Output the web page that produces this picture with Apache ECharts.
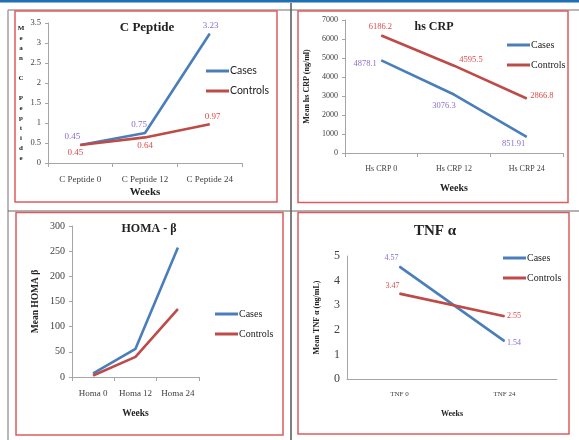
<!DOCTYPE html>
<html>
<head>
<meta charset="utf-8">
<script src="https://cdn.jsdelivr.net/npm/echarts@6/dist/echarts.min.js"></script>
<style>html,body{margin:0;padding:0;background:#fff;}#c{width:579px;height:440px;}</style>
</head>
<body>
<div id="c"></div>
<script>
// ---- data ----
var cpepCats = ['C Peptide 0', 'C Peptide 12', 'C Peptide 24'];
var cpepCases = [0.45, 0.75, 3.23];
var cpepControls = [0.45, 0.64, 0.97];

var crpCats = ['Hs CRP 0', 'Hs CRP 12', 'Hs CRP 24'];
var crpCases = [4878.1, 3076.3, 851.91];
var crpControls = [6186.2, 4595.5, 2866.8];

var homaCats = ['Homa 0', 'Homa 12', 'Homa 24'];
var homaCases = [7, 56, 257];
var homaControls = [3, 40, 135];

var tnfCats = ['TNF 0', 'TNF 24'];
var tnfCases = [4.57, 1.54];
var tnfControls = [3.47, 2.55];

// ---- styles ----
var SERIF = '"Liberation Serif", "DejaVu Serif", serif';
var BLUE = '#4a7ebb', RED = '#be4b48';
var PURPLE_LBL = '#8a6cd0', RED_LBL = '#e04a4a';
var AXIS_GRAY = '#a6a6a6', TICK_TXT = '#404040';

function withLabels(values, specs, color, size) {
  return values.map(function (v, i) {
    var s = specs[i];
    return {
      value: v,
      label: { show: true, position: s[0], distance: 3, offset: [s[1], s[2]], color: color, fontFamily: SERIF, fontSize: size }
    };
  });
}

function xAx(idx, cats, fs, nameSize, gap, ticks) {
  return {
    type: 'category', gridIndex: idx, data: cats, boundaryGap: true,
    axisLine: { lineStyle: { color: AXIS_GRAY, width: 1 } },
    axisTick: { show: ticks, length: 4, lineStyle: { color: AXIS_GRAY } },
    axisLabel: { color: TICK_TXT, fontFamily: SERIF, fontSize: fs, margin: 12, interval: 0 },
    name: 'Weeks', nameLocation: 'middle', nameGap: gap,
    nameTextStyle: { fontFamily: SERIF, fontWeight: 'bold', fontSize: nameSize, color: '#222' }
  };
}
function yAx(idx, max, interval, fs, name, nameSize, gap, rotate, ticks) {
  return {
    type: 'value', gridIndex: idx, min: 0, max: max, interval: interval,
    splitLine: { show: false },
    axisLine: { show: true, lineStyle: { color: AXIS_GRAY, width: 1 } },
    axisTick: { show: ticks, length: 3, lineStyle: { color: AXIS_GRAY } },
    axisLabel: { color: TICK_TXT, fontFamily: SERIF, fontSize: fs, margin: 7, formatter: function (v) { return String(v); } },
    name: name, nameLocation: 'middle', nameGap: gap, nameRotate: rotate,
    nameTextStyle: { fontFamily: SERIF, fontWeight: 'bold', fontSize: nameSize, color: '#222', align: 'center', lineHeight: 10 }
  };
}
function line(name, idx, data, color) {
  return {
    name: name, type: 'line', xAxisIndex: idx, yAxisIndex: idx, data: data,
    symbol: 'circle', symbolSize: 1, showSymbol: true,
    lineStyle: { color: color, width: 2.6 }, itemStyle: { color: color }, z: 3
  };
}
function legend(left, top, fam, fs) {
  return {
    data: ['Cases', 'Controls'], orient: 'vertical', left: left, top: top, padding: 0,
    itemWidth: 23, itemHeight: 3, itemGap: 8, icon: 'rect',
    textStyle: { fontFamily: fam, fontSize: fs, color: '#222', lineHeight: 12, padding: [0, 0, 0, -4] }
  };
}
function rect(x1, y1, x2, y2) {
  return { type: 'rect', shape: { x: x1, y: y1, width: x2 - x1, height: y2 - y1 }, style: { fill: 'none', stroke: '#dc5c5c', lineWidth: 1.5 }, silent: true };
}
function seg(x1, y1, x2, y2, color, w) {
  return { type: 'line', shape: { x1: x1, y1: y1, x2: x2, y2: y2 }, style: { stroke: color, lineWidth: w }, silent: true };
}

var option = {
  animation: false,
  backgroundColor: '#fff',
  title: [
    { text: 'C Peptide', left: 147, top: 21, textAlign: 'center', padding: 0, textStyle: { fontFamily: SERIF, fontWeight: 'bold', fontSize: 13, color: '#222' } },
    { text: 'hs CRP', left: 434, top: 21, textAlign: 'center', padding: 0, textStyle: { fontFamily: SERIF, fontWeight: 'bold', fontSize: 12, color: '#222' } },
    { text: 'HOMA - β', left: 149, top: 223, textAlign: 'center', padding: 0, textStyle: { fontFamily: SERIF, fontWeight: 'bold', fontSize: 12, color: '#222' } },
    { text: 'TNF α', left: 435, top: 224, textAlign: 'center', padding: 0, textStyle: { fontFamily: SERIF, fontWeight: 'bold', fontSize: 15, color: '#222' } }
  ],
  legend: [
    legend(206, 65, '"Lato", "Liberation Sans", sans-serif', 10.5),
    legend(507, 39, SERIF, 10),
    legend(215, 308, SERIF, 10),
    legend(503, 252, SERIF, 10)
  ],
  grid: [
    { left: 48, top: 23, width: 194, height: 140 },
    { left: 345, top: 20, width: 218, height: 133 },
    { left: 72, top: 226, width: 127, height: 151 },
    { left: 347, top: 256, width: 210, height: 123 }
  ],
  xAxis: [
    xAx(0, cpepCats, 9, 11, 24, true),
    xAx(1, crpCats, 8, 10, 30, true),
    xAx(2, homaCats, 9, 9.5, 32, true),
    xAx(3, tnfCats, 7, 8, 31, false)
  ],
  yAxis: [
    yAx(0, 3.5, 0.5, 8.5, 'M\ne\na\nn\n\nC\n\nP\ne\np\nt\ni\nd\ne', 7, 27, 0, true),
    yAx(1, 7000, 1000, 8, 'Mean hs CRP (ng/ml)', 8, 33, 90, true),
    yAx(2, 300, 50, 10, 'Mean HOMA β', 9.5, 31, 90, true),
    yAx(3, 5, 1, 12, 'Mean TNF α (ng/mL)', 8, 25, 90, false)
  ],
  series: [
    line('Cases', 0, withLabels(cpepCases, [['top', -8, 0], ['top', -6, 0], ['top', 1, 0]], PURPLE_LBL, 9), BLUE),
    line('Controls', 0, withLabels(cpepControls, [['bottom', -5, 0], ['bottom', 0, 0], ['top', 3, 0]], RED_LBL, 9), RED),
    line('Cases', 1, withLabels(crpCases, [['left', -1, 3], ['bottom', -10, 3], ['bottom', -13, -1]], PURPLE_LBL, 8.5), BLUE),
    line('Controls', 1, withLabels(crpControls, [['top', -1, -1], ['top', 17, 2], ['right', 0, -3]], RED_LBL, 8.5), RED),
    line('Cases', 2, homaCases, BLUE),
    line('Controls', 2, homaControls, RED),
    line('Cases', 3, withLabels(tnfCases, [['top', -8, -1], ['right', -1, 2]], PURPLE_LBL, 8), BLUE),
    line('Controls', 3, withLabels(tnfControls, [['top', -7, 0], ['right', -1, 0]], RED_LBL, 8), RED)
  ],
  graphic: [
    { type: 'rect', shape: { x: 0, y: 0, width: 579, height: 2.5 }, style: { fill: '#1f6fb5' }, silent: true },
    seg(8, 10, 579, 10, '#a0a0a0', 1.5),
    seg(8, 10, 8, 440, '#a0a0a0', 1.5),
    seg(291, 3, 291, 440, '#555', 1.5),
    seg(8, 211, 579, 211, '#666', 1.2),
    rect(15, 11, 277, 202),
    rect(298, 11, 568, 202.5),
    rect(16, 212.5, 283, 435),
    rect(298, 212.5, 569, 434)
  ]
};
var chart = echarts.init(document.getElementById('c'), null, { renderer: 'canvas' });
chart.setOption(option);
</script>
</body>
</html>
